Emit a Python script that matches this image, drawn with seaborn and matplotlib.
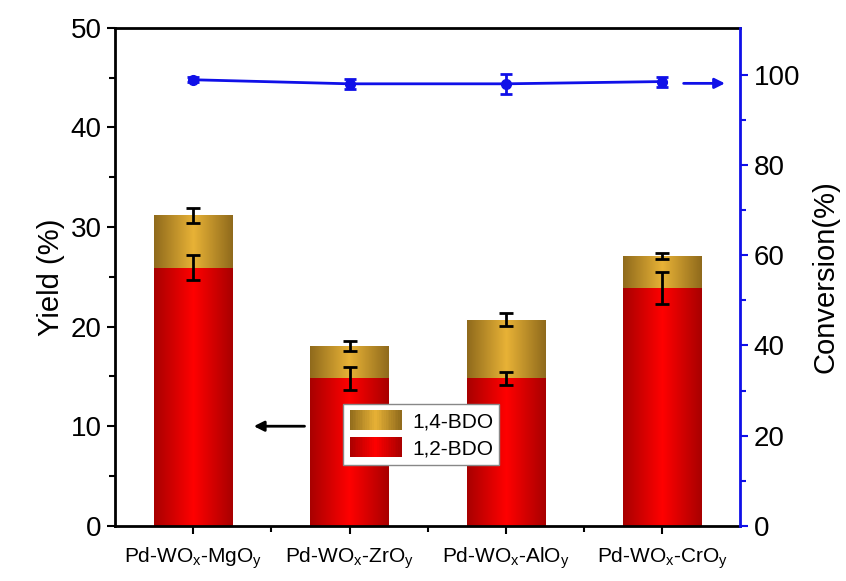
import numpy as np
import pandas as pd
import matplotlib
matplotlib.use("Agg")
import matplotlib.pyplot as plt
import seaborn as sns
from matplotlib.colors import LinearSegmentedColormap
from matplotlib.patches import Rectangle
from matplotlib.legend_handler import HandlerBase

categories = ["Pd-WO$_x$-MgO$_y$", "Pd-WO$_x$-ZrO$_y$", "Pd-WO$_x$-AlO$_y$", "Pd-WO$_x$-CrO$_y$"]
yield_12 = [25.9, 14.8, 14.8, 23.9]
yield_12_err = [1.25, 1.15, 0.65, 1.6]
yield_total = [31.2, 18.1, 20.7, 27.1]
yield_total_err = [0.75, 0.5, 0.65, 0.3]
conversion = [98.9, 98.0, 98.0, 98.5]
conversion_err = [0.5, 1.1, 2.2, 1.1]

sns.set_style("ticks")
plt.rcParams['font.family'] = ['Liberation Sans', 'DejaVu Sans']
plt.rcParams['mathtext.default'] = 'regular'
for k in ['text.color', 'axes.labelcolor', 'xtick.color', 'ytick.color', 'axes.edgecolor']:
    plt.rcParams[k] = 'black'

RED_DARK, RED_MID = "#a80000", "#ff0000"
GOLD_DARK, GOLD_MID = "#8f6a1c", "#e8b236"
red_cmap = LinearSegmentedColormap.from_list("r", [RED_DARK, RED_MID, RED_DARK])
gold_cmap = LinearSegmentedColormap.from_list("g", [GOLD_DARK, GOLD_MID, GOLD_DARK])

fig = plt.figure(figsize=(8.46, 5.81), dpi=100)
ax = fig.add_axes([0.136, 0.095, 0.739, 0.857])

df = pd.DataFrame({"cat": categories, "total": yield_total, "red": yield_12})
sns.barplot(data=df, x="cat", y="total", color=GOLD_MID, width=0.5, ax=ax,
            saturation=1, linewidth=0)
n_gold = len(ax.patches)
sns.barplot(data=df, x="cat", y="red", color=RED_MID, width=0.5, ax=ax,
            saturation=1, linewidth=0)

grad = np.linspace(0, 1, 256).reshape(1, -1)
for i, p in enumerate(ax.patches):
    cmap = gold_cmap if i < n_gold else red_cmap
    x0, y0 = p.get_x(), p.get_y()
    w, h = p.get_width(), p.get_height()
    im = ax.imshow(grad, cmap=cmap, aspect='auto', extent=[x0, x0 + w, y0, y0 + h],
                   zorder=p.get_zorder() + 0.1 + (0.5 if i >= n_gold else 0))
    im.set_clip_path(p)
    p.set_zorder(p.get_zorder() + (0.5 if i >= n_gold else 0))

xpos = np.arange(len(categories))
ax.errorbar(xpos, yield_total, yerr=yield_total_err, fmt='none', ecolor='black',
            elinewidth=2, capsize=5, capthick=2, zorder=10)
ax.errorbar(xpos, yield_12, yerr=yield_12_err, fmt='none', ecolor='black',
            elinewidth=2, capsize=5, capthick=2, zorder=10)

ax.set_xlim(-0.5, 3.5)
ax.set_ylim(0, 50)
ax.set_xlabel("")
ax.set_ylabel("Yield (%)", fontsize=21, labelpad=4)
ax.set_xticks(xpos)
ax.set_xticklabels(categories, fontsize=15)
ax.set_xticks([0.5, 1.5, 2.5], minor=True)
ax.set_yticks(np.arange(0, 51, 10))
ax.set_yticks(np.arange(5, 50, 10), minor=True)
ax.tick_params(axis='y', labelsize=20, width=1.5, length=6, direction='out')
ax.tick_params(axis='y', which='minor', width=1.5, length=4)
ax.tick_params(axis='x', which='major', width=1.5, length=6, direction='out', pad=8)
ax.tick_params(axis='x', which='minor', width=1.5, length=4, direction='out')
for s in ['left', 'bottom', 'top']:
    ax.spines[s].set_linewidth(2)
    ax.spines[s].set_color('black')
ax.spines['right'].set_visible(False)

ax2 = ax.twinx()
blue = "#1010e8"
ax2.errorbar(xpos, conversion, yerr=conversion_err, color=blue, lw=2, marker='o',
             markersize=7, capsize=4, capthick=2, elinewidth=2)
ax2.set_ylim(0, 110.4)
ax2.set_yticks(np.arange(0, 101, 20))
ax2.set_yticks(np.arange(10, 110, 20), minor=True)
ax2.tick_params(axis='y', labelsize=20, width=1.5, length=6, direction='out', color=blue)
ax2.tick_params(axis='y', which='minor', width=1.5, length=4, color=blue)
ax2.set_ylabel("Conversion(%)", fontsize=21, labelpad=8)
for s in ['left', 'bottom', 'top']:
    ax2.spines[s].set_visible(False)
ax2.spines['right'].set_linewidth(2)
ax2.spines['right'].set_color(blue)

ax.annotate("", xy=(0.37, 10), xytext=(0.73, 10),
            arrowprops=dict(arrowstyle='-|>', color='black', lw=2, mutation_scale=15))
ax2.annotate("", xy=(3.42, 98.1), xytext=(3.12, 98.1),
             arrowprops=dict(arrowstyle='-|>', color=blue, lw=2, mutation_scale=15))


class GradHandler(HandlerBase):
    def __init__(self, cmap):
        super().__init__()
        self.cmap = cmap

    def create_artists(self, legend, orig_handle, xdescent, ydescent, width, height,
                       fontsize, trans):
        n = 30
        arts = []
        for k in range(n):
            c = self.cmap((k + 0.5) / n)
            r = Rectangle((-xdescent + width * k / n, -ydescent), width / n + 0.3, height,
                          facecolor=c, edgecolor='none', transform=trans)
            arts.append(r)
        return arts


h_gold = Rectangle((0, 0), 1, 1, facecolor=GOLD_MID)
h_red = Rectangle((0, 0), 1, 1, facecolor=RED_MID)
leg = ax.legend([h_gold, h_red], ["1,4-BDO", "1,2-BDO"], loc='upper left',
                bbox_to_anchor=(0.365, 0.245), fontsize=15, frameon=True, fancybox=False,
                framealpha=1, handlelength=2.5, handleheight=1.1, borderpad=0.3,
                labelspacing=0.3, handletextpad=0.5, borderaxespad=0,
                handler_map={h_gold: GradHandler(gold_cmap), h_red: GradHandler(red_cmap)})
leg.get_frame().set_edgecolor('#888888')
leg.get_frame().set_linewidth(1)
leg.set_zorder(20)

fig.savefig("out.png", dpi=100)
